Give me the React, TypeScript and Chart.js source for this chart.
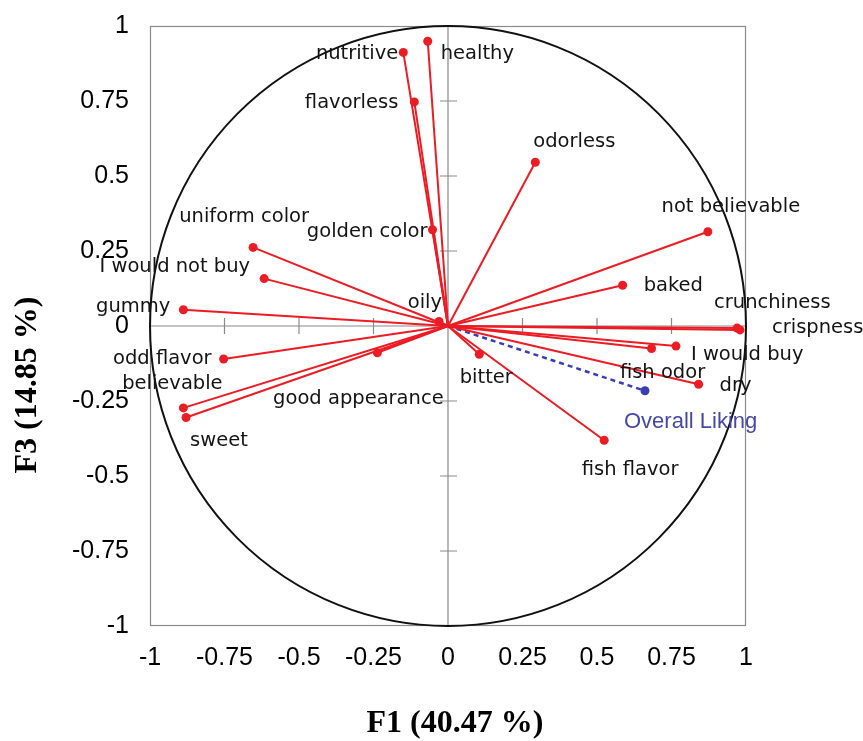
import React, { useEffect, useRef } from "react";
import { Chart, registerables } from "chart.js";

Chart.register(...registerables);

// ---- data ----
const variables = [
  "nutritive", "healthy", "flavorless", "golden color", "uniform color",
  "I would not buy", "gummy", "oily", "odorless", "not believable", "baked",
  "crunchiness", "crispness", "I would buy", "fish odor", "dry", "fish flavor",
  "bitter", "odd flavor", "believable", "sweet", "good appearance",
];
const f1Values = [
  -0.150, -0.068, -0.113, -0.052, -0.654,
  -0.617, -0.888, -0.030, 0.293, 0.872, 0.586,
  0.970, 0.980, 0.765, 0.683, 0.841, 0.524,
  0.105, -0.753, -0.888, -0.879, -0.237,
];
const f3Values = [
  0.912, 0.949, 0.747, 0.321, 0.262,
  0.158, 0.054, 0.015, 0.546, 0.314, 0.136,
  -0.007, -0.013, -0.067, -0.075, -0.194, -0.381,
  -0.094, -0.110, -0.273, -0.305, -0.089,
];
const supplementaryName = "Overall Liking";
const supplementaryF1 = 0.661;
const supplementaryF3 = -0.216;

const tickValues = [-1, -0.75, -0.5, -0.25, 0, 0.25, 0.5, 0.75, 1];
const tickLabels = ["-1", "-0.75", "-0.5", "-0.25", "0", "0.25", "0.5", "0.75", "1"];
const xTitle = "F1 (40.47 %)";
const yTitle = "F3 (14.85 %)";

// ---- style ----
const RED = "#ec1c24";
const BLUE = "#3a3db4";
const BLUE_TEXT = "#4548a8";
const LABEL_FONT = "19.5px 'DejaVu Sans'";

// label offsets in pixels from the point: [dx, dy, align]
const labelPlacement: Record<string, [number, number, CanvasTextAlign]> = {
  "nutritive": [-5, 2, "right"],
  "healthy": [13, 13, "left"],
  "flavorless": [-16, 1, "right"],
  "golden color": [-5, 2, "right"],
  "uniform color": [-9, -30, "center"],
  "I would not buy": [-14, -12, "right"],
  "gummy": [-13, -3, "right"],
  "oily": [3, -19, "right"],
  "odorless": [-2, -20, "left"],
  "not believable": [23, -25, "center"],
  "baked": [21, 1, "left"],
  "crunchiness": [-23, -25, "left"],
  "crispness": [32, -2, "left"],
  "I would buy": [15, 9, "left"],
  "fish odor": [11, 24, "center"],
  "dry": [21, 2, "left"],
  "fish flavor": [26, 30, "center"],
  "bitter": [7, 24, "center"],
  "odd flavor": [-12, 0, "right"],
  "believable": [-11, -24, "center"],
  "sweet": [4, 23, "left"],
  "good appearance": [-19, 46, "center"],
  "Overall Liking": [-21, 31, "left"],
};

const circlePlugin = {
  id: "circleAxes",
  beforeDatasetsDraw(chart: any) {
    const { ctx, chartArea, scales } = chart;
    const xs = scales.x;
    const ys = scales.y;
    const x0 = xs.getPixelForValue(0);
    const y0 = ys.getPixelForValue(0);
    ctx.save();
    // frame
    ctx.strokeStyle = "#8a8a8a";
    ctx.lineWidth = 1.2;
    ctx.strokeRect(chartArea.left + 0.5, chartArea.top + 0.5, chartArea.right - chartArea.left - 1, chartArea.bottom - chartArea.top - 1);
    // central axes
    ctx.beginPath();
    ctx.moveTo(chartArea.left, y0);
    ctx.lineTo(chartArea.right, y0);
    ctx.moveTo(x0, chartArea.top);
    ctx.lineTo(x0, chartArea.bottom);
    for (const v of tickValues) {
      if (v === 0 || Math.abs(v) === 1) continue;
      const px = xs.getPixelForValue(v);
      ctx.moveTo(px, y0 - 8);
      ctx.lineTo(px, y0 + 8);
      const py = ys.getPixelForValue(v);
      ctx.moveTo(x0 - 8, py);
      ctx.lineTo(x0 + 9, py);
    }
    ctx.stroke();
    // unit circle
    const rx = xs.getPixelForValue(1) - x0;
    const ry = y0 - ys.getPixelForValue(1);
    ctx.beginPath();
    ctx.ellipse(x0, y0, rx, ry, 0, 0, Math.PI * 2);
    ctx.strokeStyle = "#111";
    ctx.lineWidth = 2;
    ctx.stroke();
    ctx.restore();
  },
  afterDatasetsDraw(chart: any) {
    const { ctx, scales } = chart;
    const xs = scales.x;
    const ys = scales.y;
    ctx.save();
    ctx.textBaseline = "middle";
    ctx.font = LABEL_FONT;
    ctx.fillStyle = "#141414";
    variables.forEach((name, i) => {
      const p = labelPlacement[name] || [6, -12, "left"];
      const px = xs.getPixelForValue(f1Values[i]);
      const py = ys.getPixelForValue(f3Values[i]);
      ctx.textAlign = p[2];
      ctx.fillText(name, px + p[0], py + p[1]);
    });
    const sp = labelPlacement[supplementaryName];
    ctx.font = "22px 'Liberation Sans'";
    ctx.fillStyle = BLUE_TEXT;
    ctx.textAlign = sp[2];
    ctx.fillText(
      supplementaryName,
      xs.getPixelForValue(supplementaryF1) + sp[0],
      ys.getPixelForValue(supplementaryF3) + sp[1]
    );
    ctx.restore();
  },
  afterDraw(chart: any) {
    const { ctx } = chart;
    ctx.save();
    ctx.fillStyle = "#000";
    ctx.font = "bold 32px 'Liberation Serif'";
    ctx.textAlign = "center";
    ctx.textBaseline = "middle";
    ctx.fillText(xTitle, 455, 724);
    ctx.translate(28, 385);
    ctx.rotate(-Math.PI / 2);
    ctx.fillText(yTitle, 0, 0);
    ctx.restore();
  },
};

export default function App() {
  const canvasRef = useRef<HTMLCanvasElement | null>(null);

  useEffect(() => {
    const canvas = canvasRef.current;
    if (!canvas) return;

    const datasets: any[] = variables.map((name, i) => ({
      label: name,
      data: [
        { x: 0, y: 0 },
        { x: f1Values[i], y: f3Values[i] },
      ],
      showLine: true,
      borderColor: RED,
      borderWidth: 2,
      backgroundColor: RED,
      pointBackgroundColor: RED,
      pointBorderWidth: 0,
      pointRadius: [0, 4.5],
    }));
    datasets.push({
      label: supplementaryName,
      data: [
        { x: 0, y: 0 },
        { x: supplementaryF1, y: supplementaryF3 },
      ],
      showLine: true,
      borderColor: BLUE,
      borderWidth: 2.5,
      borderDash: [5, 4],
      backgroundColor: BLUE,
      pointBackgroundColor: BLUE,
      pointBorderWidth: 0,
      pointRadius: [0, 4.5],
    });

    const tickCallback = (value: any) => {
      const idx = tickValues.findIndex((t) => Math.abs(t - Number(value)) < 1e-9);
      return idx >= 0 ? tickLabels[idx] : "";
    };

    const chart = new Chart(canvas, {
      type: "scatter",
      data: { datasets },
      plugins: [circlePlugin],
      options: {
        animation: false,
        responsive: false,
        devicePixelRatio: 1,
        layout: { padding: { left: 0, top: 26, right: 117, bottom: 0 } },
        plugins: {
          legend: { display: false },
          tooltip: { enabled: false },
        },
        scales: {
          x: {
            type: "linear",
            min: -1,
            max: 1,
            afterBuildTicks: (scale: any) => {
              scale.ticks = tickValues.map((v) => ({ value: v }));
            },
            afterFit: (scale: any) => {
              scale.height = 115;
              scale.paddingLeft = 0;
              scale.paddingRight = 0;
            },
            grid: { display: false, drawTicks: false },
            border: { display: false },
            ticks: {
              callback: tickCallback,
              autoSkip: false,
              maxRotation: 0,
              minRotation: 0,
              padding: 17,
              color: "#000",
              font: { family: "'Liberation Sans'", size: 25 },
            },
          },
          y: {
            type: "linear",
            min: -1,
            max: 1,
            afterBuildTicks: (scale: any) => {
              scale.ticks = tickValues.map((v) => ({ value: v }));
            },
            afterFit: (scale: any) => {
              scale.width = 150;
              scale.paddingTop = 0;
              scale.paddingBottom = 0;
            },
            grid: { display: false, drawTicks: false },
            border: { display: false },
            ticks: {
              callback: tickCallback,
              autoSkip: false,
              padding: 21,
              color: "#000",
              font: { family: "'Liberation Sans'", size: 25 },
            },
          },
        },
      } as any,
    });

    return () => chart.destroy();
  }, []);

  return (
    <div style={{ position: "fixed", left: 0, top: 0, width: 863, height: 741, background: "#fff" }}>
      <canvas ref={canvasRef} width={863} height={741} style={{ display: "block" }} />
    </div>
  );
}
